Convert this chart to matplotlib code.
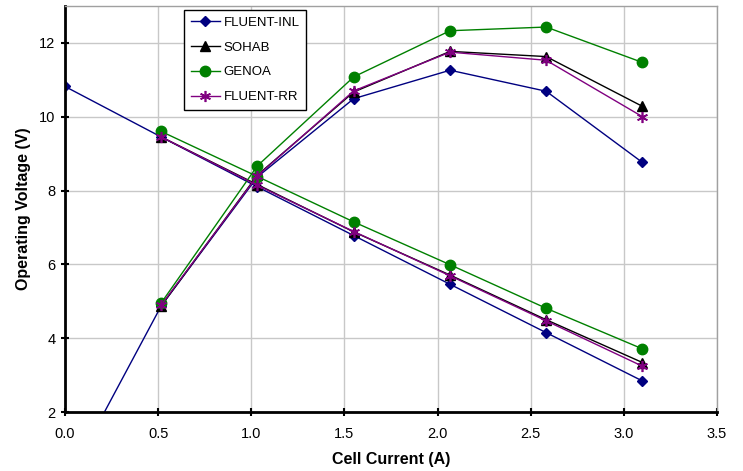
import matplotlib
matplotlib.use("Agg")
import matplotlib.pyplot as plt

plt.rcParams['font.family'] = ['Liberation Sans', 'DejaVu Sans']

# Cell current (A)
current_inl = [0.0, 0.517, 1.033, 1.55, 2.067, 2.583, 3.1]
current = [0.517, 1.033, 1.55, 2.067, 2.583, 3.1]

# Voltage curves (decreasing)
volt_inl = [10.82, 9.45, 8.10, 6.78, 5.46, 4.15, 2.84]
volt_sohab = [9.45, 8.16, 6.88, 5.71, 4.50, 3.34]
volt_genoa = [9.60, 8.38, 7.15, 5.99, 4.81, 3.71]
volt_rr = [9.45, 8.14, 6.89, 5.69, 4.47, 3.24]

# Power curves (increasing) plotted on the same axis
power_inl = [0.0, 4.88, 8.37, 10.49, 11.26, 10.69, 8.76]
power_sohab = [4.88, 8.42, 10.67, 11.77, 11.63, 10.28]
power_genoa = [4.96, 8.67, 11.08, 12.33, 12.43, 11.47]
power_rr = [4.90, 8.40, 10.70, 11.75, 11.53, 10.00]

labels = ["FLUENT-INL", "SOHAB", "GENOA", "FLUENT-RR"]
x_ticks = [0.0, 0.5, 1.0, 1.5, 2.0, 2.5, 3.0, 3.5]
y_ticks = [2, 4, 6, 8, 10, 12]

fig = plt.figure(figsize=(7.43, 4.71), dpi=100)
ax = fig.add_axes([65/743, 1-412/471, (717-65)/743, (412-6)/471])

styles = [
    dict(color='#000080', marker='D', markersize=5),
    dict(color='black', marker='^', markersize=7),
    dict(color='#008000', marker='o', markersize=7.5),
    dict(color='#800080', marker=(6, 2, 0), markersize=8, markeredgewidth=1.2),
]
series = [
    (current_inl, volt_inl, power_inl),
    (current, volt_sohab, power_sohab),
    (current, volt_genoa, power_genoa),
    (current, volt_rr, power_rr),
]

handles = []
for (xs, v, p), st, lab in zip(series, styles, labels):
    h, = ax.plot(xs, v, lw=1, label=lab, **st)
    ax.plot(xs, p, lw=1, **st)
    handles.append(h)

ax.set_xlim(0, 3.5)
ax.set_ylim(2, 13)
ax.set_xticks(x_ticks)
ax.set_xticklabels([f"{t:.1f}" for t in x_ticks])
ax.set_yticks(y_ticks)
ax.grid(True, color='#c8c8c8', lw=1)
ax.set_axisbelow(True)

for s in ['left', 'bottom']:
    ax.spines[s].set_linewidth(2)
    ax.spines[s].set_color('black')
for s in ['top', 'right']:
    ax.spines[s].set_linewidth(1)
    ax.spines[s].set_color('#a0a0a0')

ax.tick_params(axis='both', direction='inout', length=6, width=1.5, labelsize=10.5, color='black')
ax.tick_params(axis='x', pad=8)
ax.tick_params(axis='y', pad=4)

ax.set_xlabel("Cell Current (A)", fontsize=11.5, fontweight='bold', labelpad=8)
ax.set_ylabel("Operating Voltage (V)", fontsize=11.5, fontweight='bold', labelpad=6)

leg = ax.legend(handles=handles, loc='upper left', bbox_to_anchor=(184/743, 1-10/471),
                bbox_transform=fig.transFigure, fancybox=False, framealpha=1,
                edgecolor='black', fontsize=9.5, handlelength=2.2, labelspacing=0.95,
                borderpad=0.5, handletextpad=0.3, borderaxespad=0)
leg.get_frame().set_linewidth(1)

fig.savefig("out.png", dpi=100)
